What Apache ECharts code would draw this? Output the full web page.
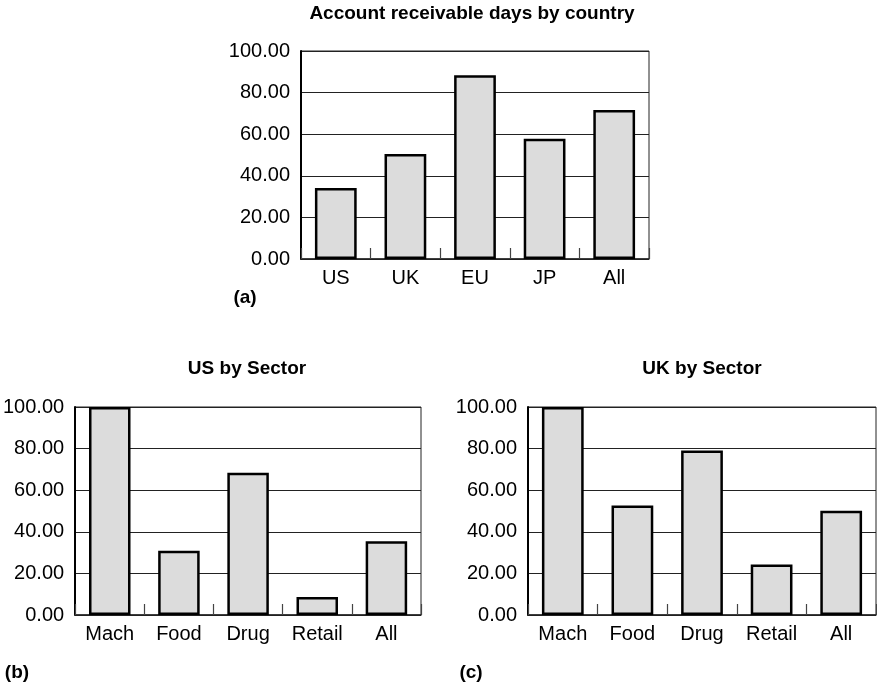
<!DOCTYPE html>
<html>
<head>
<meta charset="utf-8">
<title>Account receivable days</title>
<script src="https://cdn.jsdelivr.net/npm/echarts@6/dist/echarts.min.js"></script>
<style>
  html, body { margin: 0; padding: 0; background: #fff; }
  #chart { width: 877px; height: 685px; }
</style>
</head>
<body>
<div id="chart"></div>
<script>
// data
var countries = ['US', 'UK', 'EU', 'JP', 'All'];
var countryDays = [34.1, 50.5, 88.3, 57.8, 71.6];

var sectors = ['Mach', 'Food', 'Drug', 'Retail', 'All'];
var usSectorDays = [100, 30.9, 68.4, 8.7, 35.4];
var ukSectorDays = [100, 52.7, 79.1, 24.3, 50.1];

var yMin = 0;
var yMax = 100;
var yStep = 20;

var FONT = '"Liberation Sans", Arial, Helvetica, sans-serif';

function xAxisFor(idx, cats) {
  return {
    type: 'category',
    gridIndex: idx,
    data: cats,
    boundaryGap: true,
    axisLine: { lineStyle: { color: '#222', width: 1.5 } },
    axisTick: { show: true, inside: true, length: 11, interval: 0, lineStyle: { color: '#444', width: 1.2 } },
    axisLabel: { color: '#000', fontSize: 20, fontFamily: FONT, margin: 9, interval: 0 },
    splitLine: { show: false }
  }
}

function yAxisFor(idx) {
  return {
    type: 'value',
    gridIndex: idx,
    min: yMin,
    max: yMax,
    interval: yStep,
    axisLine: { show: true, lineStyle: { color: '#000', width: 2 } },
    axisTick: { show: false },
    axisLabel: {
      color: '#000', fontSize: 20, fontFamily: FONT, margin: 11,
      formatter: function (v) { return v.toFixed(2) }
    },
    splitLine: { show: true, lineStyle: { color: '#222', width: 1 } }
  }
}

function barSeries(idx, values) {
  return {
    type: 'bar',
    xAxisIndex: idx,
    yAxisIndex: idx,
    data: values,
    barWidth: '60%',
    itemStyle: { color: '#dcdcdc', borderColor: '#000', borderWidth: 2.5 },
    emphasis: { disabled: true },
    animation: false
  }
}

function label(text, x, y, size) {
  return {
    type: 'text',
    x: x,
    y: y,
    style: {
      text: text,
      font: 'bold ' + size + 'px ' + FONT,
      fill: '#000',
      align: 'center',
      verticalAlign: 'middle'
    }
  }
}

var chart = echarts.init(document.getElementById('chart'));
chart.setOption({
  backgroundColor: '#fff',
  animation: false,
  grid: [
    { left: 301, top: 51, width: 348, height: 208, show: true, borderColor: '#222', borderWidth: 1, backgroundColor: 'transparent' },
    { left: 73, top: 407, width: 348, height: 208, show: true, borderColor: '#222', borderWidth: 1, backgroundColor: 'transparent' },
    { left: 528, top: 407, width: 348, height: 208, show: true, borderColor: '#222', borderWidth: 1, backgroundColor: 'transparent' }
  ],
  xAxis: [xAxisFor(0, countries), xAxisFor(1, sectors), xAxisFor(2, sectors)],
  yAxis: [yAxisFor(0), yAxisFor(1), yAxisFor(2)],
  series: [
    barSeries(0, countryDays),
    barSeries(1, usSectorDays),
    barSeries(2, ukSectorDays)
  ],
  graphic: [
    label('Account receivable days by country', 472, 14, 19),
    label('US by Sector', 247, 369, 19),
    label('UK by Sector', 702, 369, 19),
    label('(a)', 245, 298, 19),
    label('(b)', 17, 673, 19),
    label('(c)', 471, 673, 19)
  ]
});
</script>
</body>
</html>
